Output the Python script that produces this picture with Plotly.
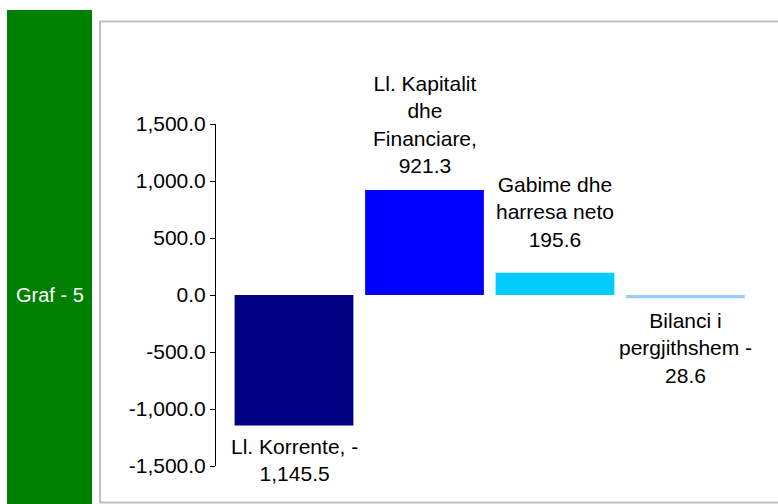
import plotly.graph_objects as go

categories = ["Ll. Korrente", "Ll. Kapitalit dhe Financiare", "Gabime dhe harresa neto", "Bilanci i pergjithshem"]
values = [-1145.5, 921.3, 195.6, -28.6]
labels = ["Ll. Korrente, -<br>1,145.5",
          "Ll. Kapitalit<br>dhe<br>Financiare,<br>921.3",
          "Gabime dhe<br>harresa neto<br>195.6",
          "Bilanci i<br>pergjithshem -<br>28.6"]
colors = ["#000080", "#0000FF", "#00CCFF", "#99CCFF"]
tick_vals = [-1500, -1000, -500, 0, 500, 1000, 1500]
tick_text = [f"{v:,.1f}" for v in tick_vals]

W, H = 778, 504
font = "Liberation Sans, Arial, sans-serif"

xs = list(range(len(categories)))

fig = go.Figure()
fig.add_trace(go.Bar(x=xs, y=values, width=0.91, marker=dict(color=colors, line=dict(width=0)),
                     hoverinfo="skip"))

# data labels, anchored at each bar end
shifts = [-7, 11, 20, -9]
for i, (v, lab) in enumerate(zip(values, labels)):
    fig.add_annotation(x=xs[i], y=v, text=lab, showarrow=False, xanchor="center",
                       yanchor="bottom" if v > 0 else "top", yshift=shifts[i],
                       font=dict(size=21, color="#000000", family=font), align="center")

# green side band and gray frame
fig.add_shape(type="rect", xref="paper", yref="paper", x0=7 / W, x1=92 / W, y0=-0.02, y1=(H - 10) / H,
              fillcolor="#008000", line=dict(width=0), layer="below")
fig.add_shape(type="rect", xref="paper", yref="paper", x0=100 / W, x1=1.02, y0=(H - 502.5) / H, y1=(H - 21.5) / H,
              fillcolor="rgba(0,0,0,0)", line=dict(color="#C0C0C0", width=2), layer="below")
fig.add_annotation(xref="paper", yref="y", x=50 / W, y=0, text="Graf - 5", showarrow=False,
                   xanchor="center", font=dict(size=20, color="white", family=font))

x_left = (216 - 294) / 130.5
x_right = 3 + (760 - 685.5) / 130.5

fig.update_layout(
    width=W, height=H,
    margin=dict(l=0, r=0, t=0, b=0, pad=0, autoexpand=False),
    paper_bgcolor="white", plot_bgcolor="rgba(0,0,0,0)",
    showlegend=False,
    xaxis=dict(domain=[216 / W, 760 / W], range=[x_left, x_right], visible=False),
    yaxis=dict(domain=[(H - 466) / H, (H - 124) / H], range=[-1500, 1500],
               tickvals=tick_vals, ticktext=tick_text, ticks="outside", ticklen=5, tickcolor="black",
               showline=True, linecolor="black", linewidth=1, showgrid=False, zeroline=False,
               tickfont=dict(size=21, color="black", family=font)),
)

fig.write_html("out.html", config={"displayModeBar": False},
               post_script="document.body.style.margin='0';document.body.style.overflow='hidden';")
